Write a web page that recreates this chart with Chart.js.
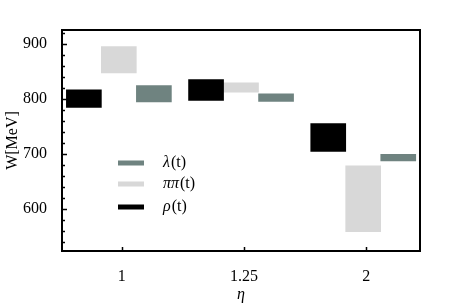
<!DOCTYPE html>
<html>
<head>
<meta charset="utf-8">
<script src="https://cdn.jsdelivr.net/npm/chart.js@4"></script>
<style>
  html, body { margin: 0; padding: 0; background: #fff; }
  #wrap { width: 450px; height: 307px; }
</style>
</head>
<body>
<div id="wrap"><canvas id="chart"></canvas></div>
<script>
// categories (eta) and the W ranges [low, high]
const categories = ['1', '1.25', '2'];
const yTicks = [600, 700, 800, 900];

const lambdaLow = [795, 796, 688];
const lambdaHigh = [825, 810, 700];
const pipiLow = [848, 813, 559];
const pipiHigh = [896, 830, 679];
const rhoLow = [785, 798, 705];
const rhoHigh = [817, 836, 756];

const serif = '"Liberation Serif", "DejaVu Serif", serif';

function ranges(low, high, shift) {
    return categories.map((c, i) => ({ x: i + shift, y: [low[i], high[i]] }));
}

// legend in the middle of the plot, frame and inward ticks
const framePlugin = {
    id: 'frame',
    afterDraw(chart) {
        const ctx = chart.ctx;
        const a = chart.chartArea;
        const y = chart.scales.y;
        const x = chart.scales.x;
        ctx.save();
        ctx.strokeStyle = '#000';
        ctx.lineWidth = 2;
        ctx.strokeRect(a.left, a.top, a.right - a.left, a.bottom - a.top);
        ctx.lineWidth = 1.5;
        ctx.beginPath();
        for (let v = 540; v <= 920; v += 20) {
            const py = Math.round(y.getPixelForValue(v)) + 0.5;
            const len = v % 100 === 0 ? 5 : 3;
            ctx.moveTo(a.left, py);
            ctx.lineTo(a.left + len, py);
        }
        categories.forEach((c, i) => {
            const px = Math.round(x.getPixelForValue(i)) + 0.5;
            ctx.moveTo(px, a.bottom);
            ctx.lineTo(px, a.bottom - 4);
        });
        ctx.stroke();

        const items = [
            { greek: 'λ', color: '#6f8380' },
            { greek: 'ππ', color: '#d8d8d8' },
            { greek: 'ρ', color: '#000000' }
        ];
        const rows = [163, 184, 207];
        ctx.textBaseline = 'middle';
        items.forEach((it, i) => {
            ctx.fillStyle = it.color;
            ctx.fillRect(118, rows[i] - 2.5, 26, 5);
            ctx.fillStyle = '#000';
            ctx.font = 'italic 16px ' + serif;
            const w = ctx.measureText(it.greek).width;
            ctx.fillText(it.greek, 163, rows[i]);
            ctx.font = '16px ' + serif;
            ctx.fillText('(t)', 163 + w + 1, rows[i]);
        });
        ctx.restore();
    }
};

const ctx = document.getElementById('chart').getContext('2d');
const chart = new Chart(ctx, {
    type: 'bar',
    data: {
        datasets: [{
            label: 'ρ(t)',
            data: ranges(rhoLow, rhoHigh, -0.311),
            backgroundColor: '#000000'
        }, {
            label: 'ππ(t)',
            data: ranges(pipiLow, pipiHigh, -0.025),
            backgroundColor: '#d8d8d8'
        }, {
            label: 'λ(t)',
            data: ranges(lambdaLow, lambdaHigh, 0.262),
            backgroundColor: '#6f8380'
        }]
    },
    options: {
        responsive: true,
        maintainAspectRatio: false,
        animation: false,
        layout: { padding: { left: 0, top: 30, right: 30, bottom: 0 } },
        datasets: { bar: { barThickness: 35, grouped: false, borderWidth: 0 } },
        plugins: {
            legend: { display: false },
            tooltip: { enabled: false }
        },
        scales: {
            x: {
                type: 'linear',
                offset: false,
                min: -0.49,
                max: 2.44,
                grid: { display: false },
                border: { display: false },
                afterBuildTicks: s => { s.ticks = categories.map((c, i) => ({ value: i })); },
                afterFit: s => { s.height = 56; },
                ticks: {
                    color: '#000',
                    padding: 8,
                    font: { family: serif, size: 16 },
                    callback: v => categories[v]
                },
                title: {
                    display: true,
                    text: 'η',
                    color: '#000',
                    font: { family: serif, size: 16, style: 'italic' },
                    padding: { top: 0, bottom: 3 }
                }
            },
            y: {
                min: 524,
                max: 926,
                grid: { display: false },
                border: { display: false },
                afterBuildTicks: s => { s.ticks = yTicks.map(v => ({ value: v })); },
                afterFit: s => { s.width = 62; },
                ticks: {
                    color: '#000',
                    padding: 7,
                    font: { family: serif, size: 16 }
                },
                title: {
                    display: true,
                    text: 'W[MeV]',
                    color: '#000',
                    font: { family: serif, size: 16 },
                    padding: { top: 3, bottom: 0 }
                }
            }
        }
    },
    plugins: [framePlugin]
});
</script>
</body>
</html>
